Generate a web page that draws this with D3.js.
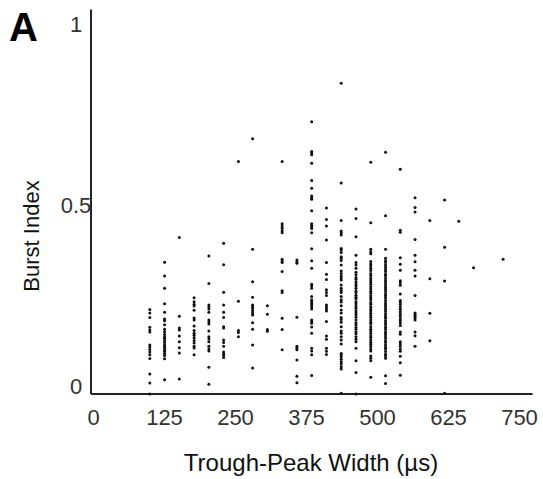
<!DOCTYPE html>
<html>
<head>
<meta charset="utf-8">
<script src="https://cdn.jsdelivr.net/npm/d3@7"></script>
<style>
    body { margin: 0; background: #fff; }
    text { font-family: "Liberation Sans", Arial, sans-serif; }
</style>
</head>
<body>
<svg id="scatter"></svg>
<script>
// trough-peak width of each column (us)
var widthUs = [100, 126, 152, 178, 204, 230, 256, 281, 307, 333, 359, 385,
               411, 437, 463, 489, 515, 541, 567, 593, 619, 644, 670, 722];

// burst index values, one list per width column
var burstIndex = [
    [0.211, 0.202, 0.189, 0.162, 0.155, 0.149, 0.113, 0.108, 0.101, 0.094, 0.086, 0.076, 0.033, 0.008, -0.022],
    [0.342, 0.304, 0.270, 0.227, 0.204, 0.185, 0.180, 0.169, 0.157, 0.150, 0.142, 0.136, 0.132, 0.126, 0.120, 0.114, 0.109, 0.104, 0.099, 0.095, 0.090, 0.084, 0.075, 0.017],
    [0.410, 0.193, 0.160, 0.155, 0.138, 0.122, 0.106, 0.091, 0.019],
    [0.244, 0.233, 0.226, 0.221, 0.209, 0.188, 0.182, 0.166, 0.153, 0.146, 0.140, 0.133, 0.126, 0.119, 0.110, 0.105, 0.086],
    [0.359, 0.283, 0.224, 0.218, 0.213, 0.204, 0.182, 0.177, 0.171, 0.152, 0.136, 0.130, 0.122, 0.110, 0.102, 0.097, 0.052, 0.005],
    [0.394, 0.335, 0.259, 0.224, 0.204, 0.189, 0.164, 0.160, 0.127, 0.120, 0.110, 0.094, 0.089, 0.085, 0.079],
    [0.620, 0.234, 0.153, 0.148, 0.136],
    [0.683, 0.378, 0.288, 0.245, 0.224, 0.219, 0.214, 0.208, 0.202, 0.196, 0.175, 0.157, 0.113, 0.050],
    [0.222, 0.198, 0.156, 0.151],
    [0.620, 0.448, 0.442, 0.436, 0.429, 0.423, 0.350, 0.345, 0.341, 0.316, 0.263, 0.258, 0.187, 0.156, 0.100],
    [0.348, 0.343, 0.339, 0.190, 0.110, 0.105, 0.100, 0.072, 0.027, 0.009],
    [0.730, 0.648, 0.644, 0.639, 0.615, 0.568, 0.546, 0.525, 0.520, 0.516, 0.484, 0.448, 0.444, 0.439, 0.435, 0.423, 0.379, 0.346, 0.325,
     0.281, 0.276, 0.270, 0.247, 0.238, 0.233, 0.228, 0.224, 0.218, 0.213, 0.182, 0.178, 0.173, 0.163, 0.146, 0.104, 0.097, 0.086, 0.029],
    [0.492, 0.460, 0.442, 0.403, 0.341, 0.309, 0.294, 0.266, 0.258, 0.250, 0.224, 0.218, 0.213, 0.207, 0.178, 0.138, 0.129, 0.104, 0.096, 0.087],
    [0.836, 0.561, 0.457, 0.428, 0.423, 0.417, 0.380, 0.376, 0.369, 0.357, 0.353, 0.347, 0.334, 0.318, 0.311, 0.304, 0.298, 0.293, 0.279,
     0.270, 0.264, 0.258, 0.247, 0.238, 0.232, 0.222, 0.210, 0.202, 0.189, 0.184, 0.176, 0.164, 0.152, 0.146, 0.136, 0.127, 0.116, 0.090,
     0.086, 0.081, 0.074, 0.067, 0.061, 0.053, 0.047, -0.020],
    [0.489, 0.463, 0.412, 0.361, 0.341, 0.334, 0.325, 0.314, 0.307, 0.300, 0.295, 0.288, 0.282, 0.276, 0.270, 0.263, 0.258, 0.251, 0.245,
     0.240, 0.233, 0.227, 0.221, 0.215, 0.208, 0.202, 0.196, 0.190, 0.182, 0.175, 0.169, 0.162, 0.157, 0.150, 0.144, 0.136, 0.129, 0.122,
     0.104, 0.070, 0.037, -0.022],
    [0.618, 0.451, 0.378, 0.371, 0.365, 0.344, 0.337, 0.332, 0.325, 0.319, 0.311, 0.305, 0.298, 0.293, 0.287, 0.281, 0.274, 0.268, 0.262,
     0.256, 0.249, 0.244, 0.238, 0.231, 0.226, 0.219, 0.213, 0.207, 0.201, 0.195, 0.189, 0.182, 0.176, 0.171, 0.164, 0.157, 0.152, 0.146,
     0.139, 0.134, 0.127, 0.121, 0.115, 0.109, 0.102, 0.097, 0.083, 0.077, 0.070, 0.024],
    [0.646, 0.470, 0.378, 0.353, 0.346, 0.341, 0.334, 0.328, 0.322, 0.316, 0.309, 0.304, 0.297, 0.291, 0.285, 0.279, 0.273, 0.267, 0.261,
     0.254, 0.249, 0.243, 0.236, 0.230, 0.224, 0.218, 0.212, 0.206, 0.199, 0.193, 0.187, 0.180, 0.175, 0.169, 0.162, 0.157, 0.150, 0.144,
     0.138, 0.132, 0.125, 0.120, 0.113, 0.107, 0.102, 0.095, 0.088, 0.083, 0.077, 0.028, 0.007],
    [0.599, 0.430, 0.425, 0.354, 0.336, 0.320, 0.291, 0.285, 0.278, 0.254, 0.236, 0.231, 0.225, 0.218, 0.212, 0.205, 0.199, 0.193, 0.186,
     0.180, 0.174, 0.167, 0.149, 0.143, 0.122, 0.116, 0.110, 0.102, 0.096, 0.082, 0.064, 0.030],
    [0.520, 0.493, 0.481, 0.405, 0.361, 0.343, 0.320, 0.304, 0.250, 0.202, 0.198, 0.193, 0.188, 0.182, 0.149, 0.139, 0.110],
    [0.457, 0.296, 0.201, 0.125],
    [0.514, 0.383, 0.290, -0.020],
    [0.455],
    [0.327],
    [0.350]
];

var xTicks = [0, 125, 250, 375, 500, 625, 750];
var yTicks = [0, 0.5, 1];
var yTickLabels = ["0", "0.5", "1"];

// axis limits (the axes run a little past the tick range)
var xLimits = [-3.5, 774];
var yLimits = [-0.022, 1.04];

// set the dimensions of the figure
var width = 543,
    height = 479;

var svg = d3.select("#scatter")
    .attr("width", width)
    .attr("height", height);

// set the ranges
var x = d3.scaleLinear().domain([0, 750]).range([93, 519]);
var y = d3.scaleLinear().domain([0, 1]).range([386, 24]);

// flatten the columns into points
var points = [];
widthUs.forEach(function(w, i){
    burstIndex[i].forEach(function(b){
        points.push({x: w, y: b});
    });
});

// x axis: line plus labels, no tick marks
var xAxis = svg.append("g")
    .attr("transform", "translate(0," + y(yLimits[0]) + ")")
    .call(d3.axisBottom(x).tickValues(xTicks).tickSize(0).tickPadding(15));
xAxis.select(".domain")
    .attr("d", "M" + x(xLimits[0]) + ",0H" + x(xLimits[1]))
    .attr("stroke", "#222")
    .attr("stroke-width", 2);
xAxis.selectAll(".tick text")
    .attr("font-size", 22)
    .attr("font-family", "Liberation Sans, Arial, sans-serif")
    .attr("fill", "#333");

// y axis, labels centred in the left margin
var yAxis = svg.append("g")
    .attr("transform", "translate(" + x(xLimits[0]) + ",0)")
    .call(d3.axisLeft(y).tickValues(yTicks).tickFormat(function(d, i){ return yTickLabels[i]; })
        .tickSize(0).tickPadding(15));
yAxis.select(".domain")
    .attr("d", "M0," + y(yLimits[0]) + "V" + y(yLimits[1]))
    .attr("stroke", "#222")
    .attr("stroke-width", 2);
yAxis.selectAll(".tick text")
    .attr("text-anchor", "middle")
    .attr("x", -15)
    .attr("font-size", 22)
    .attr("font-family", "Liberation Sans, Arial, sans-serif")
    .attr("fill", "#333");

// the dots
svg.selectAll(".dot")
    .data(points)
    .enter().append("circle")
    .attr("class", "dot")
    .attr("cx", function(d){ return x(d.x); })
    .attr("cy", function(d){ return y(d.y); })
    .attr("r", 1.5)
    .attr("fill", "#111");

// axis titles
svg.append("text")
    .attr("x", 311)
    .attr("y", 471)
    .attr("text-anchor", "middle")
    .attr("font-size", 24)
    .attr("fill", "#111")
    .text("Trough-Peak Width (\u00b5s)");

svg.append("text")
    .attr("transform", "translate(39,236) rotate(-90)")
    .attr("text-anchor", "middle")
    .attr("font-size", 22)
    .attr("fill", "#111")
    .text("Burst Index");

// panel letter
svg.append("text")
    .attr("x", 9)
    .attr("y", 41)
    .attr("font-size", 40)
    .attr("font-weight", "bold")
    .attr("fill", "#000")
    .text("A");
</script>
</body>
</html>
